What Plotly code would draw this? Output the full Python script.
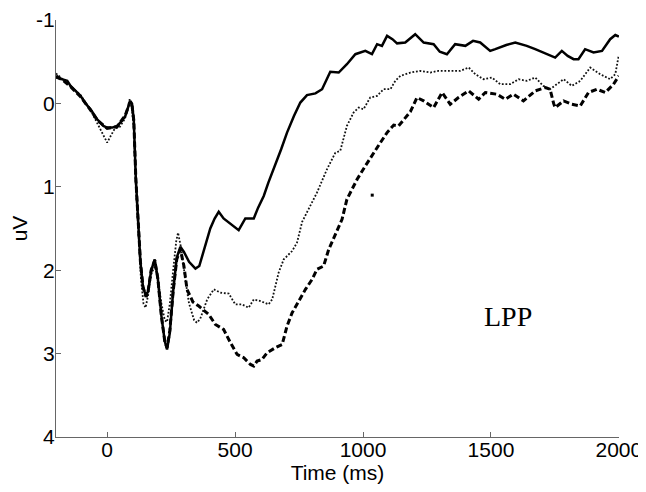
import plotly.graph_objects as go

# ---- data ----
solid_t = [-200, -170, -156, -143, -120, -104, -85, -65, -39, -15, 0, 20, 39, 55, 71, 82, 90, 97, 104, 112, 121, 130, 140, 152, 160, 172, 186, 198, 212, 225, 234, 245, 258, 272, 286, 300, 320, 345, 360, 380, 403, 420, 436, 455, 480, 500, 514, 540, 573, 590, 612, 630, 651, 680, 703, 730, 755, 781, 814, 840, 872, 905, 937, 970, 1009, 1035, 1055, 1074, 1094, 1115, 1133, 1165, 1204, 1237, 1276, 1300, 1328, 1360, 1400, 1430, 1458, 1497, 1517, 1560, 1595, 1640, 1673, 1719, 1751, 1777, 1800, 1823, 1842, 1868, 1901, 1934, 1966, 1986, 2000]
solid_v = [-0.31, -0.28, -0.27, -0.21, -0.14, -0.09, 0.0, 0.07, 0.19, 0.27, 0.29, 0.29, 0.27, 0.22, 0.15, 0.05, -0.03, 0.0, 0.2, 0.9, 1.4, 1.9, 2.2, 2.31, 2.25, 2.0, 1.87, 2.1, 2.55, 2.85, 2.95, 2.75, 2.25, 1.85, 1.72, 1.78, 1.9, 1.98, 1.95, 1.75, 1.5, 1.38, 1.3, 1.38, 1.44, 1.48, 1.52, 1.38, 1.38, 1.25, 1.11, 0.95, 0.79, 0.55, 0.35, 0.15, -0.01, -0.1, -0.12, -0.17, -0.38, -0.37, -0.47, -0.59, -0.63, -0.59, -0.71, -0.69, -0.81, -0.77, -0.72, -0.73, -0.83, -0.73, -0.71, -0.62, -0.59, -0.71, -0.69, -0.75, -0.73, -0.63, -0.65, -0.7, -0.73, -0.69, -0.65, -0.59, -0.55, -0.63, -0.57, -0.53, -0.53, -0.65, -0.61, -0.63, -0.77, -0.82, -0.8]

dotted_t = [-200, -170, -140, -104, -65, -30, -10, 0, 12, 30, 50, 70, 88, 96, 104, 112, 121, 132, 142, 150, 160, 172, 186, 198, 212, 225, 234, 245, 258, 270, 277, 290, 305, 320, 340, 351, 364, 378, 391, 417, 443, 475, 501, 527, 553, 573, 599, 631, 645, 670, 690, 723, 742, 762, 790, 820, 859, 892, 911, 937, 963, 983, 1002, 1028, 1055, 1080, 1107, 1126, 1146, 1185, 1224, 1263, 1295, 1341, 1380, 1413, 1439, 1471, 1504, 1536, 1575, 1608, 1640, 1673, 1705, 1731, 1784, 1816, 1849, 1888, 1927, 1966, 1986, 1995, 2000]
dotted_v = [-0.36, -0.28, -0.2, -0.1, 0.08, 0.3, 0.42, 0.47, 0.4, 0.3, 0.28, 0.18, -0.05, 0.05, 0.3, 1.0, 1.5, 2.1, 2.4, 2.45, 2.3, 2.05, 1.95, 2.1, 2.4, 2.6, 2.62, 2.4, 2.0, 1.65, 1.55, 1.75, 2.1, 2.4, 2.6, 2.63, 2.58, 2.45, 2.35, 2.23, 2.27, 2.28, 2.41, 2.41, 2.45, 2.35, 2.37, 2.41, 2.35, 2.03, 1.87, 1.77, 1.67, 1.42, 1.25, 1.07, 0.79, 0.59, 0.57, 0.27, 0.11, 0.05, 0.07, -0.07, -0.09, -0.17, -0.17, -0.27, -0.33, -0.37, -0.39, -0.37, -0.39, -0.39, -0.39, -0.43, -0.35, -0.29, -0.31, -0.23, -0.23, -0.29, -0.27, -0.31, -0.21, -0.17, -0.29, -0.21, -0.27, -0.43, -0.35, -0.29, -0.35, -0.5, -0.58]

dashed_t = [-200, -170, -143, -104, -65, -39, 0, 39, 71, 90, 97, 104, 112, 121, 130, 140, 152, 160, 172, 186, 198, 212, 225, 234, 245, 258, 272, 286, 300, 312, 335, 358, 375, 397, 423, 455, 482, 508, 534, 560, 573, 586, 605, 625, 657, 684, 703, 723, 749, 775, 801, 820, 846, 866, 892, 918, 937, 977, 1009, 1041, 1068, 1094, 1120, 1139, 1165, 1185, 1211, 1237, 1276, 1309, 1341, 1373, 1413, 1452, 1478, 1523, 1556, 1588, 1627, 1673, 1712, 1731, 1745, 1751, 1784, 1816, 1849, 1881, 1914, 1947, 1979, 1995, 2000]
dashed_v = [-0.33, -0.27, -0.2, -0.08, 0.08, 0.2, 0.3, 0.28, 0.14, -0.02, 0.02, 0.2, 0.9, 1.4, 1.9, 2.2, 2.32, 2.25, 2.0, 1.88, 2.1, 2.55, 2.85, 2.93, 2.72, 2.25, 1.87, 1.75, 1.95, 2.23, 2.38, 2.43, 2.47, 2.53, 2.65, 2.71, 2.87, 3.01, 3.05, 3.13, 3.15, 3.09, 3.07, 2.99, 2.93, 2.89, 2.67, 2.51, 2.37, 2.23, 2.11, 1.99, 1.95, 1.75, 1.57, 1.39, 1.15, 0.91, 0.75, 0.59, 0.47, 0.35, 0.26, 0.27, 0.17, 0.1, -0.07, -0.03, 0.05, -0.13, 0.01, -0.07, -0.15, -0.05, -0.13, -0.11, -0.05, -0.11, -0.03, -0.15, -0.19, -0.17, 0.0, 0.05, -0.03, 0.01, 0.03, -0.13, -0.17, -0.13, -0.23, -0.31, -0.33]

stray_t = [1036]
stray_v = [1.10]

x_ticks = [0, 500, 1000, 1500, 2000]
x_tick_text = ["0", "500", "1000", "1500", "2000"]
y_ticks = [-1, 0, 1, 2, 3, 4]
y_tick_text = ["-1", "0", "1", "2", "3", "4"]
label_text = "LPP"
label_t, label_v = 1568, 2.56

fig = go.Figure()
fig.add_trace(go.Scatter(x=dotted_t, y=dotted_v, mode="lines",
                         line=dict(color="#111111", width=1.8, dash="1.8px,1.8px"), showlegend=False))
fig.add_trace(go.Scatter(x=dashed_t, y=dashed_v, mode="lines",
                         line=dict(color="black", width=3, dash="6px,3px"), showlegend=False))
fig.add_trace(go.Scatter(x=solid_t, y=solid_v, mode="lines",
                         line=dict(color="black", width=2.5), showlegend=False))
fig.add_trace(go.Scatter(x=stray_t, y=stray_v, mode="markers",
                         marker=dict(color="black", size=3, symbol="square"), showlegend=False))

fig.add_annotation(x=label_t, y=label_v, text=label_text, showarrow=False,
                   font=dict(family="Liberation Serif, Times New Roman, serif", size=28, color="black"))

axis_font = dict(family="Liberation Sans, Arial, sans-serif", size=21, color="black")
fig.update_layout(
    width=638, height=476,
    paper_bgcolor="white", plot_bgcolor="white",
    margin=dict(l=48, r=27, t=12, b=47, autoexpand=False),
    font=axis_font,
    xaxis=dict(range=[-200, 2000.5], tickvals=x_ticks, ticktext=x_tick_text, ticks="inside", ticklen=5,
               tickcolor="#666666", showline=True, linecolor="#666666", linewidth=1,
               showgrid=False, zeroline=False, tickfont=axis_font, ticklabelstandoff=-6,
               ticklabeloverflow="allow",
               title=dict(text="Time (ms)", font=axis_font, standoff=9)),
    yaxis=dict(range=[4, -1], tickvals=y_ticks, ticktext=y_tick_text, ticks="inside", ticklen=5,
               tickcolor="#666666", showline=True, linecolor="#666666", linewidth=1,
               showgrid=False, zeroline=False, tickfont=axis_font, ticklabelstandoff=-4,
               ticklabeloverflow="allow",
               title=dict(text="uV", font=axis_font, standoff=10)),
)

fig.write_html("out.html")
